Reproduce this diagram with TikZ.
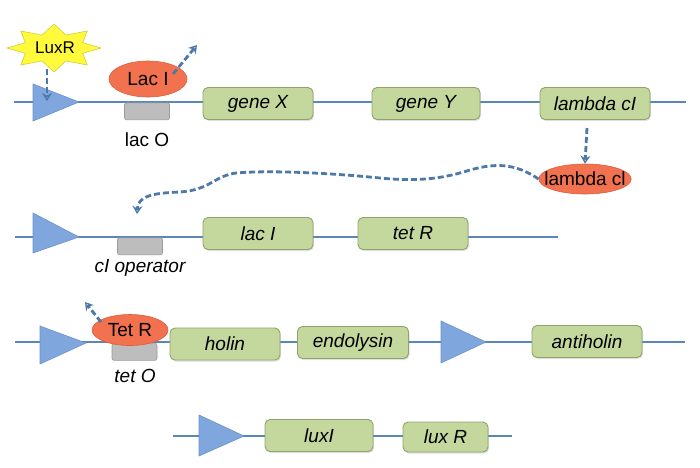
\documentclass[tikz,border=0pt]{standalone}
\usepackage{fontspec}
\setmainfont{Liberation Sans}
\usetikzlibrary{arrows.meta,shapes.geometric,shadows}
\definecolor{dnacol}{HTML}{5A86B8}
\definecolor{promfill}{HTML}{7FA7DD}
\definecolor{promedge}{HTML}{6A92C8}
\definecolor{genefill}{HTML}{C4D79D}
\definecolor{geneedge}{HTML}{8EA46A}
\definecolor{protfill}{HTML}{F2714E}
\definecolor{protedge}{HTML}{D8603F}
\definecolor{opfill}{HTML}{BDBDBD}
\definecolor{opedge}{HTML}{9A9A9A}
\definecolor{starfill}{HTML}{FFFA3C}
\definecolor{staredge}{HTML}{D8CC3A}
\definecolor{arrcol}{HTML}{4D79A8}
\tikzset{
  dna/.style={draw=dnacol, line width=2.2pt},
  gene/.style={draw=geneedge, fill=genefill, rounded corners=5pt, line width=0.9pt,
     minimum height=32pt, font=\itshape\fontsize{19}{21}\selectfont, inner sep=0pt,
     drop shadow={shadow xshift=1pt, shadow yshift=-1.5pt, opacity=0.25}},
  prom/.style={draw=promedge, fill=promfill, line width=0.6pt},
  operator/.style={draw=opedge, fill=opfill, rounded corners=2pt, line width=0.6pt,
     minimum width=45pt, minimum height=17pt, inner sep=0pt},
  prot/.style={ellipse, draw=protedge, fill=protfill, line width=0.6pt, inner sep=0pt,
     font=\fontsize{19}{21}\selectfont},
  lbl/.style={font=\fontsize{19}{21}\selectfont, inner sep=0pt},
  ilbl/.style={font=\itshape\fontsize{19}{21}\selectfont, inner sep=0pt},
  dasharr/.style={draw=arrcol, line width=2.8pt, dash pattern=on 6pt off 3pt,
     -{Stealth[length=8pt,width=10pt,open,line width=2.2pt]}},
}
\begin{document}
\begin{tikzpicture}[x=1pt,y=-1pt]
\useasboundingbox (0,0) rectangle (700,467);
% ---------------- Row 1 ----------------
\coordinate (r1s) at (14,102);
\coordinate (r1e) at (686,102);
\draw[dna] (r1s) -- (r1e);
\node[operator, anchor=north] (lacO) at (147,102.5) {};
\node[lbl] (lacOl) at (147,140) {lac O};
\draw[prom] (33,84) -- (79,102) -- (33,121) -- cycle;
\node[gene, minimum width=110pt] (geneX) at (258,103.5) {gene X};
\node[gene, minimum width=108pt] (geneY) at (426,103.5) {gene Y};
\node[gene, minimum width=110pt] (lcI) at (595,103.5) {lambda cI};
% LuxR star
\fill[shift={(54,48)}, starfill, draw=staredge, line width=0.6pt]
  \foreach \k in {0,...,15}{
    \pgfextra{\pgfmathsetmacro\ang{\k*22.5}
      \pgfmathsetmacro\rx{mod(\k,2)==0 ? 47 : 31}
      \pgfmathsetmacro\ry{mod(\k,2)==0 ? 24 : 14}}
    \ifnum\k=0 (\ang:\rx pt and \ry pt) \else -- (\ang:\rx pt and \ry pt)\fi
  } -- cycle;
\node[font=\fontsize{17}{19}\selectfont, inner sep=0pt] (luxR) at (55,48) {LuxR};
\coordinate (luxRtgt) at (47,101);
\draw[dasharr] (47,69) -- (luxRtgt);
% Lac I
\node[prot, minimum width=78pt, minimum height=36pt] (lacI) at (148,79) {Lac I};
\coordinate (lacIaway) at (197,45);
\draw[dasharr] (173,74) -- (lacIaway);
% lambda cI protein
\node[prot, inner xsep=-8pt, minimum height=30pt] (lcl) at (585,179) {lambda cl};
\draw[dasharr] (587,128) -- (lcl.north);
% ---------------- Row 2 ----------------
\coordinate (r2s) at (15,237);
\coordinate (r2e) at (558,237);
\draw[dna] (r2s) -- (r2e);
\node[operator, anchor=north] (cIO) at (140,237.5) {};
\node[ilbl] (cIOl) at (140,268) {cI operator};
\draw[prom] (33,213) -- (79,237) -- (33,253) -- cycle;
\node[gene, minimum width=110pt] (lacIg) at (258,233.5) {lac I};
\node[gene, minimum width=110pt] (tetRg) at (413,233.5) {tet R};
% wavy repression arrow
\coordinate (cIOtop) at (137,214);
\draw[dasharr] (lcl.west) .. controls (515,163) and (495,163) .. (470,170)
   .. controls (445,178) and (420,182) .. (380,178)
   .. controls (330,173) and (270,170) .. (236,173)
   .. controls (214,176) and (210,190) .. (180,192)
   .. controls (150,193) and (138,197) .. (cIOtop);
% ---------------- Row 3 ----------------
\coordinate (r3s) at (15,342);
\coordinate (r3e) at (685,342);
\draw[dna] (r3s) -- (r3e);
\node[operator, anchor=north] (tetO) at (134.5,343) {};
\node[ilbl] (tetOl) at (135,376) {tet O};
\draw[prom] (40,326) -- (86,343) -- (40,364) -- cycle;
\node[prot, minimum width=76pt, minimum height=31pt] (tetR) at (130,330) {Tet R};
\coordinate (tetRaway) at (85,302);
\draw[dasharr] (101,322) -- (tetRaway);
\node[gene, minimum width=110pt] (holin) at (225,344) {holin};
\node[gene, minimum width=111pt] (endo) at (353,342.5) {endolysin};
\draw[prom] (441,321) -- (486,342) -- (441,363) -- cycle;
\node[gene, minimum width=110pt] (anti) at (587,341.5) {antiholin};
% ---------------- Row 4 ----------------
\coordinate (r4s) at (173,436);
\coordinate (r4e) at (512,436);
\draw[dna] (r4s) -- (r4e);
\draw[prom] (199,415) -- (244,436) -- (199,456) -- cycle;
\node[gene, minimum width=108pt] (luxI) at (319,435.5) {luxI};
\node[gene, minimum width=85pt, minimum height=30pt] (luxRg) at (445.5,437) {lux R};
\end{tikzpicture}
\end{document}
